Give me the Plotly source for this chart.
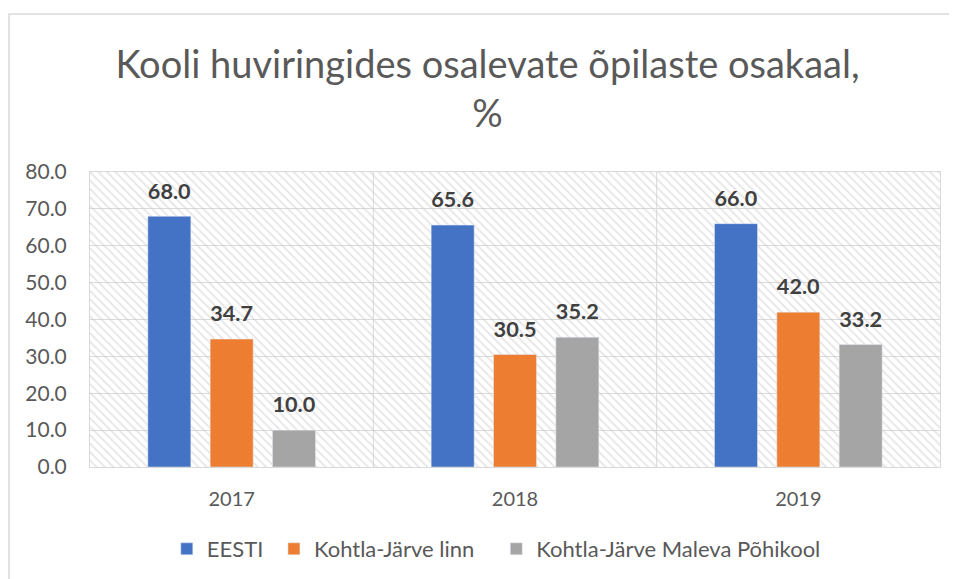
import plotly.graph_objects as go

years = ['2017', '2018', '2019']
eesti = [68.0, 65.6, 66.0]
kj_linn = [34.7, 30.5, 42.0]
kj_maleva = [10.0, 35.2, 33.2]

series = [('EESTI\u00a0', eesti, '#4472c4'),
          ('Kohtla-Järve linn\u00a0\u00a0\u00a0', kj_linn, '#ed7d31'),
          ('Kohtla-Järve Maleva Põhikool', kj_maleva, '#a5a5a5')]

fig = go.Figure()

# hatched plot-area background (on the base x axis, so the data axis draws over it)
fig.add_trace(go.Bar(
    x=[0.5], y=[80], width=[1], xaxis='x',
    marker=dict(color='rgba(0,0,0,0)', line=dict(width=0),
                pattern=dict(shape='\\', size=6, solidity=0.3,
                             fgcolor='#cbcbcb', bgcolor='rgba(0,0,0,0)')),
    showlegend=False, hoverinfo='skip'))

for name, vals, c in series:
    fig.add_trace(go.Bar(
        x=years, y=vals, name=name, marker_color=c, xaxis='x2',
        text=[f'{v:.1f}' for v in vals], textposition='outside',
        texttemplate='<span style="font-size:22px">%{text}</span><br> ',
        textfont=dict(size=10, color='#404040', family='Lato', weight='bold'),
        cliponaxis=False,
    ))

fig.update_layout(
    width=957, height=579,
    margin=dict(l=82, r=25, t=164, b=120),
    paper_bgcolor='white', plot_bgcolor='white',
    font=dict(family='Lato', color='#595959', size=20),
    title=dict(text='Kooli huviringides osalevate õpilaste osakaal,<br>%',
               x=0.501, xanchor='center', y=0.879, yanchor='top',
               font=dict(size=38, color='#595959')),
    barmode='group', bargap=0.34, bargroupgap=0.31,
    legend=dict(orientation='h', x=0.478, xanchor='center', y=-0.278, yanchor='middle',
                font=dict(size=22, color='#595959'), itemwidth=30,
                traceorder='normal'),
    xaxis=dict(range=[0, 1], visible=False, fixedrange=True),
    xaxis2=dict(type='category', overlaying='x', side='bottom', showgrid=False,
                showline=True, mirror=True, linecolor='#d9d9d9', ticks='',
                ticklabelstandoff=14, tickfont=dict(size=20)),
    yaxis=dict(range=[0, 80], dtick=10, tickformat='.1f', showgrid=True,
               gridcolor='#d9d9d9', showline=True, mirror=True, linecolor='#d9d9d9',
               zeroline=False, ticklabelstandoff=18, tickfont=dict(size=21)),
    shapes=[
        dict(type='line', xref='x', yref='paper', x0=1/3, x1=1/3, y0=0, y1=1,
             line=dict(color='#d9d9d9', width=1), layer='below'),
        dict(type='line', xref='x', yref='paper', x0=2/3, x1=2/3, y0=0, y1=1,
             line=dict(color='#d9d9d9', width=1), layer='below'),
        dict(type='rect', xref='paper', yref='paper',
             x0=(9 - 90) / 850, x1=(990 - 90) / 850,
             y0=(467 - 620) / 295, y1=(467 - 14) / 295,
             line=dict(color='#d9d9d9', width=1.5), layer='below'),
    ],
)

fig.write_html('out.html')
